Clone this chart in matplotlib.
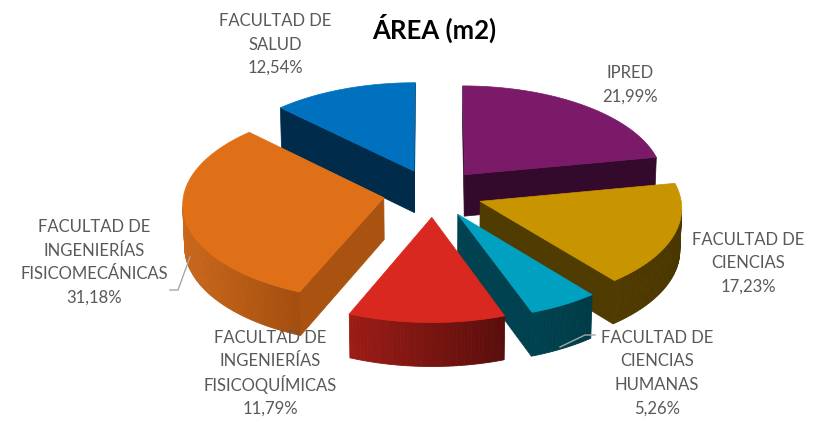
import numpy as np
import matplotlib.pyplot as plt
from matplotlib.patches import Polygon
from matplotlib.colors import to_rgb

# datos (porcentaje del área)
nombres = [['IPRED'],
           ['FACULTAD DE', 'CIENCIAS'],
           ['FACULTAD DE', 'CIENCIAS', 'HUMANAS'],
           ['FACULTAD DE', 'INGENIERÍAS', 'FISICOQUÍMICAS'],
           ['FACULTAD DE', 'INGENIERÍAS', 'FISICOMECÁNICAS'],
           ['FACULTAD DE', 'SALUD']]
area = [21.99, 17.23, 5.26, 11.79, 31.18, 12.54]

color_sup = ['#7A1A68', '#C89400', '#00A1C0', '#D8281F', '#E07018', '#0071BF']
color_lado = ['#330A2B', '#503B00', '#00424F', '#7A1410', '#AA5210', '#002B4A']
pared_clara = ['#3A0C31', '#503B00', '#00424F', '#9C1C16', '#CA681C', '#002B4A']
pared_oscura = ['#2E0926', '#4A3600', '#003C48', '#5A0E0C', '#A44E0E', '#002642']
# centro x y primera línea de cada etiqueta
pos_etq = [(630, 73), (748, 240), (657, 338), (270, 338), (94, 227), (275, 21)]
paso = 23.5

R = 200
cx, cy = 433, 193
elev = np.radians(28.7)
dist = 15.0
grosor = 0.24
separar = 0.25


def proyectar(X, Y, Z):
    v = Y * np.sin(elev) + Z * np.cos(elev)
    w = Y * np.cos(elev) - Z * np.sin(elev)
    s = dist / (dist + w)
    return np.column_stack([cx + R * X * s, cy - R * v * s])


def area_signo(p):
    x = p[:, 0]
    y = -p[:, 1]
    return 0.5 * np.sum(x * np.roll(y, -1) - np.roll(x, -1) * y)


fig = plt.figure(figsize=(8.21, 4.22), dpi=100)
ax = fig.add_axes([0, 0, 1, 1])
ax.set_xlim(0, 821)
ax.set_ylim(422, 0)
ax.axis('off')

total = sum(area)
acum = np.cumsum([0] + area)
rebanadas = []
for i in range(len(area)):
    c1 = acum[i] / total * 360
    c2 = acum[i + 1] / total * 360
    ta = np.radians(90 - c2)
    tb = np.radians(90 - c1)
    tm = (ta + tb) / 2
    ox, oy = separar * np.cos(tm), separar * np.sin(tm)
    rebanadas.append((oy, i, ta, tb, ox))

# de atrás hacia adelante
rebanadas.sort(key=lambda r: -r[0])

for oy, i, ta, tb, ox in rebanadas:
    n = max(int(np.degrees(tb - ta)), 4)
    th = np.linspace(ta, tb, n + 1)
    arriba = proyectar(ox + np.cos(th), oy + np.sin(th), np.zeros_like(th))
    abajo = proyectar(ox + np.cos(th), oy + np.sin(th), -grosor * np.ones_like(th))
    c0 = proyectar(np.array([ox]), np.array([oy]), np.array([0.0]))[0]
    cb = proyectar(np.array([ox]), np.array([oy]), np.array([-grosor]))[0]

    # paredes radiales
    caras = [np.array([cb, abajo[0], arriba[0], c0]),
             np.array([abajo[-1], cb, c0, arriba[-1]])]
    for cara in caras:
        if area_signo(cara) > 0:
            ax.add_patch(Polygon(cara, closed=True, facecolor=color_lado[i],
                                 edgecolor=color_lado[i], lw=0.5))

    # pared exterior con degradado
    segs = []
    for k in range(n):
        q = np.array([abajo[k], abajo[k + 1], arriba[k + 1], arriba[k]])
        if area_signo(q) > 0:
            segs.append(q)
    if segs:
        xs = [q[:, 0].mean() for q in segs]
        x0, x1 = min(xs), max(xs)
        ca, co = np.array(to_rgb(pared_clara[i])), np.array(to_rgb(pared_oscura[i]))
        for q, xm in zip(segs, xs):
            t = 0 if x1 == x0 else (xm - x0) / (x1 - x0)
            col = ca * (1 - t) + co * t
            ax.add_patch(Polygon(q, closed=True, facecolor=col, edgecolor=col, lw=0.6))

    tapa = np.vstack([c0, arriba])
    ax.add_patch(Polygon(tapa, closed=True, facecolor=color_sup[i],
                         edgecolor=color_sup[i], lw=0.5))

# etiquetas, una línea a la vez
for i in range(len(area)):
    lineas = nombres[i] + [f'{area[i]:.2f}%'.replace('.', ',')]
    x, y = pos_etq[i]
    for j, lin in enumerate(lineas):
        ax.text(x, y + j * paso, lin, ha='center', va='center',
                fontsize=12, color='#595959', family='Lato')

# líneas guía
ax.plot([170, 178, 190], [290, 290, 257], color='#A6A6A6', lw=1)
ax.plot([595, 585, 560], [335, 335, 347], color='#A6A6A6', lw=1)

ax.text(434, 28, 'ÁREA (m2)', ha='center', va='center', fontsize=18.5,
        fontweight='bold', color='black', family='Lato')

fig.savefig('out.png', dpi=100)
